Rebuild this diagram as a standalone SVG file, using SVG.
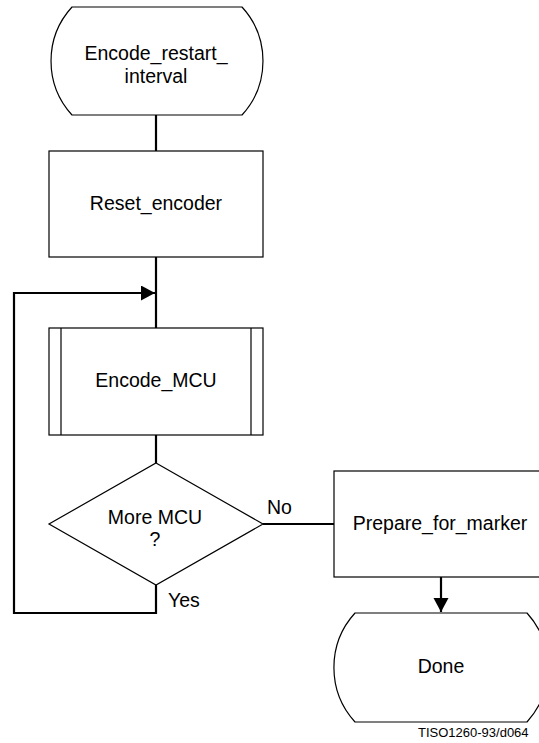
<svg xmlns="http://www.w3.org/2000/svg" width="539" height="743" viewBox="0 0 539 743">
<style>
.shape{fill:#fff;stroke:#000;stroke-width:1.2}
.conn{fill:none;stroke:#000;stroke-width:2.2}
.t{font-family:"Liberation Sans",Arial,sans-serif;font-size:19.5px;fill:#000;text-anchor:middle}
.l{font-family:"Liberation Sans",Arial,sans-serif;font-size:19.5px;fill:#000}
</style>
<defs>
<marker id="ah" markerWidth="16" markerHeight="16" refX="14" refY="7.5" orient="auto" markerUnits="userSpaceOnUse">
<path d="M0,0 L14,7.5 L0,15 Z" fill="#000"/>
</marker>
</defs>
<rect width="539" height="743" fill="#fff"/>
<g id="connectors">
<line class="conn" x1="156" y1="115" x2="156" y2="151"/>
<line class="conn" x1="156" y1="257" x2="156" y2="328"/>
<polyline class="conn" points="156,585 156,613 14,613 14,293 155,293" marker-end="url(#ah)"/>
<line class="conn" x1="156" y1="435" x2="156" y2="463"/>
<line class="conn" x1="263" y1="524" x2="334" y2="524"/>
<line class="conn" x1="441" y1="577" x2="441" y2="612" marker-end="url(#ah)"/>
</g>
<g id="encode_restart_interval">
<path class="shape" d="M72,7 L242,7 A80,80 0 0 1 242,115 L72,115 A80,80 0 0 1 72,7 Z"/>
<text class="t" x="156" y="60">Encode_restart_</text>
<text class="t" x="156" y="83">interval</text>
</g>
<g id="reset_encoder">
<rect class="shape" x="49" y="151" width="214" height="106"/>
<text class="t" x="156" y="210">Reset_encoder</text>
</g>
<g id="encode_mcu">
<rect class="shape" x="49" y="328" width="214" height="107"/>
<line class="shape" x1="61" y1="328" x2="61" y2="435"/>
<line class="shape" x1="251" y1="328" x2="251" y2="435"/>
<text class="t" x="156" y="387">Encode_MCU</text>
</g>
<g id="more_mcu">
<polygon class="shape" points="156,463 263,524 156,585 49,524"/>
<text class="t" x="155" y="524">More MCU</text>
<text class="t" x="155" y="546">?</text>
</g>
<g id="labels">
<text class="l" x="267" y="514">No</text>
<text class="l" x="168" y="607">Yes</text>
</g>
<g id="prepare_for_marker">
<rect class="shape" x="334" y="471" width="214" height="106"/>
<text class="t" x="440" y="530">Prepare_for_marker</text>
</g>
<g id="done">
<path class="shape" d="M355,613 L527,613 A81,81 0 0 1 527,722 L355,722 A81,81 0 0 1 355,613 Z"/>
<text class="t" x="441" y="673">Done</text>
</g>
<text x="418" y="737" font-family="Liberation Sans,Arial,sans-serif" font-size="13">TISO1260-93/d064</text>
</svg>
